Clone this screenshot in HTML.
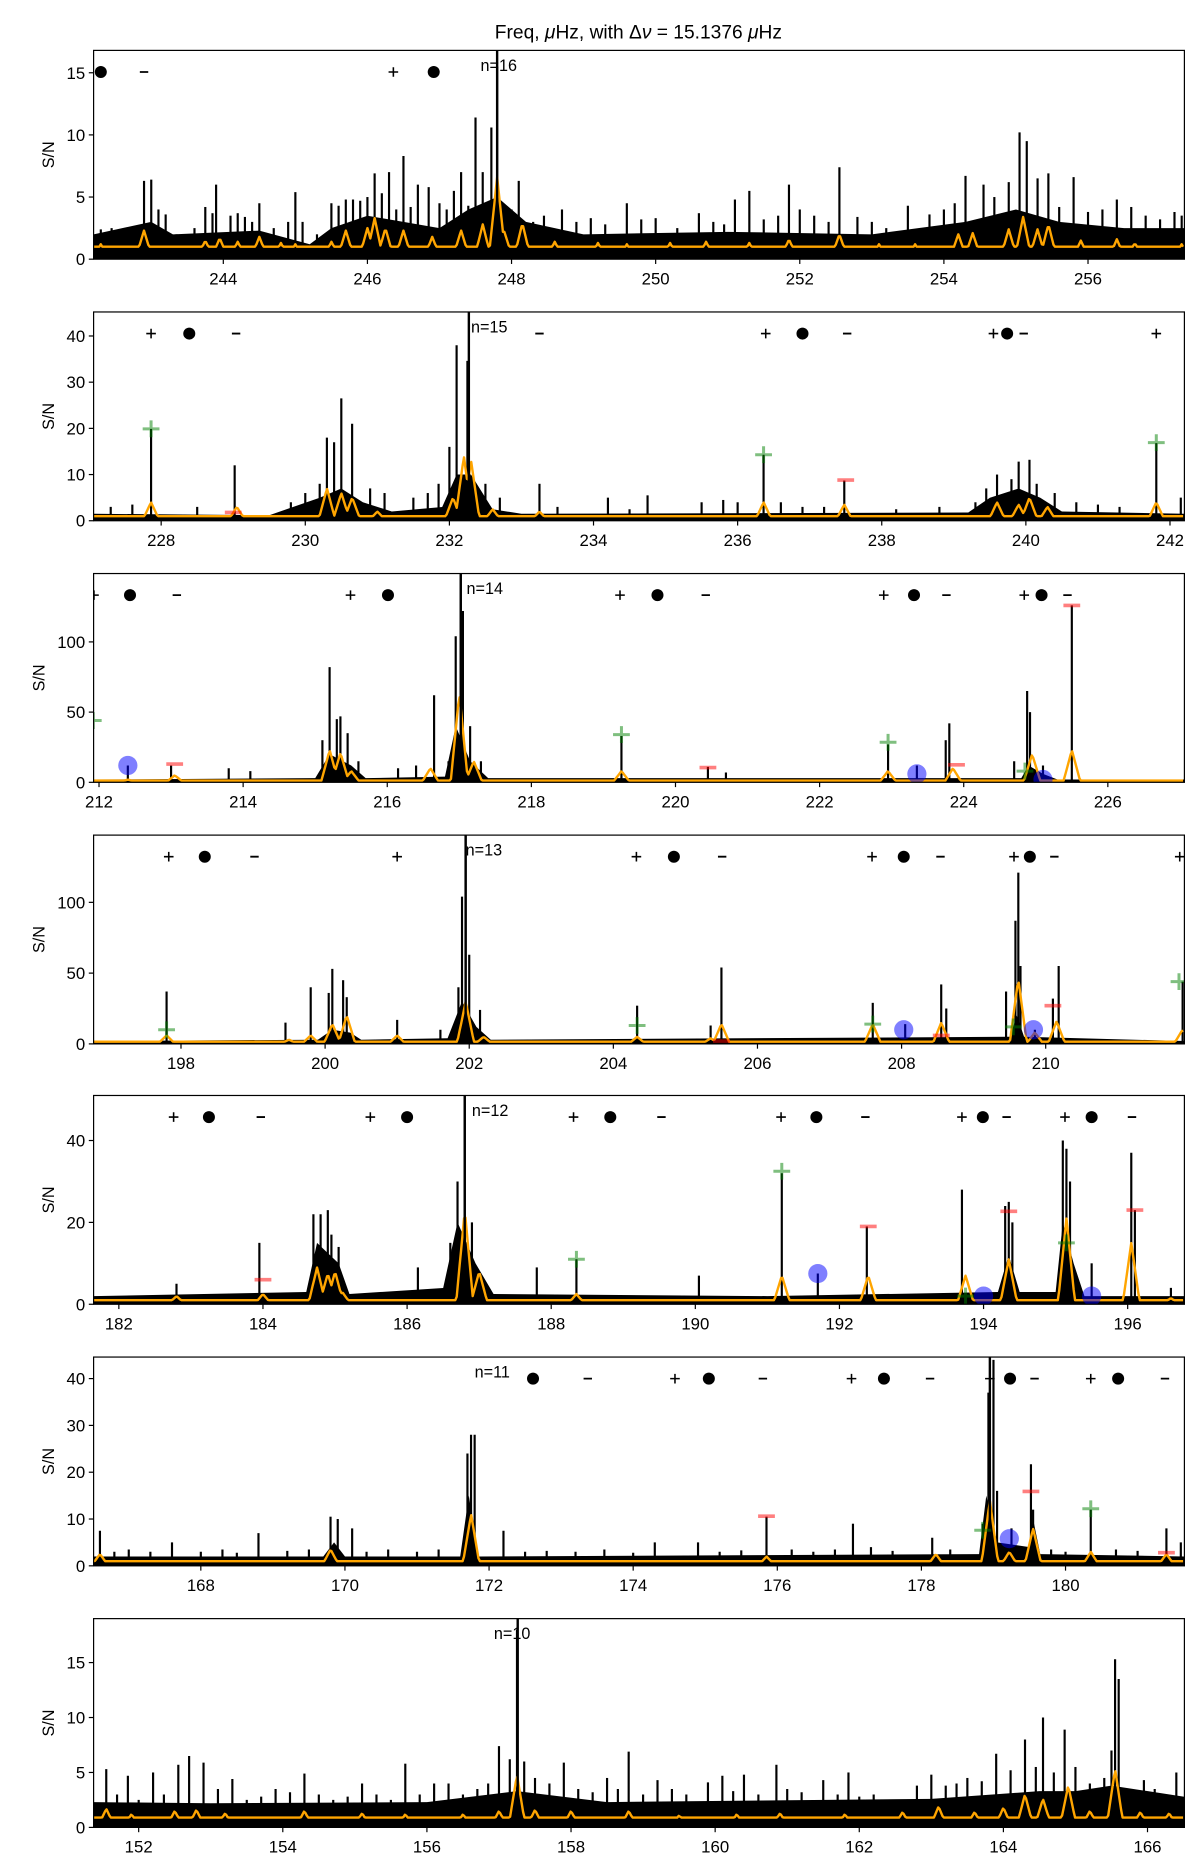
<!DOCTYPE html>
<html><head><meta charset="utf-8"><style>
html,body{margin:0;padding:0;background:#fff;}
svg{display:block;font-family:"Liberation Sans","DejaVu Sans",sans-serif;}
</style></head><body>
<svg id="chart" width="1200" height="1867" viewBox="0 0 1000 1556" preserveAspectRatio="none" xmlns="http://www.w3.org/2000/svg">
<rect width="1000" height="1556" fill="#fff"/>
<text x="532" y="32" font-size="16" text-anchor="middle">Freq, <tspan font-style="italic">μ</tspan>Hz, with Δ<tspan font-style="italic">ν</tspan> = 15.1376 <tspan font-style="italic">μ</tspan>Hz</text>
</svg>
<script>
const dnu = 15.1376;
const startFreq = 242.2;
const yMaxes = [16.8, 45.2, 148.7, 147.5, 51, 44.6, 19];
const yTicks = [[0,5,10,15],[0,10,20,30,40],[0,50,100],[0,50,100],[0,20,40],[0,10,20,30,40],[0,5,10,15]];
const nLabels = ['n=16','n=15','n=14','n=13','n=12','n=11','n=10'];
const nLines = [247.8, 232.27, 217.02, 201.95, 186.8, 178.95, 157.26];
const nTextX = [247.57, 232.3, 217.1, 201.95, 186.9, 171.8, 156.93];

const env = [
 [[242.2,2],[243,3],[243.3,2],[244.5,2.3],[245.2,1.2],[245.5,2.5],[246,3.5],[246.5,3],[247,2.5],[247.4,4],[247.8,5],[248.2,3],[249,2],[251,2.2],[253,2],[254.3,3],[255,4],[255.6,3],[256.5,2.5],[257.34,2.5]],
 [[227.06,1.5],[229.5,1.2],[230.2,5],[230.5,7],[230.8,4],[231.2,2],[231.9,3],[232.1,10],[232.3,10],[232.6,2.5],[233,1.5],[239.2,1.8],[239.5,5],[239.9,7],[240.2,5],[240.5,2],[242.2,1.5]],
 [[211.92,2],[215,3],[215.2,20],[215.5,12],[215.7,3],[216.8,4],[216.95,40],[217.15,15],[217.4,3],[224.8,3],[224.9,12],[225.1,6],[225.3,2],[227.06,2]],
 [[196.79,2],[199.9,3],[200.1,10],[200.35,8],[200.5,3],[201.7,4],[201.9,30],[202.1,12],[202.3,3],[209.5,5],[209.6,20],[209.7,5],[211.93,2]],
 [[181.65,2],[184.6,3],[184.75,15],[185.05,10],[185.2,2.5],[186.5,4],[186.7,20],[186.95,10],[187.2,2.5],[191,2],[194.2,3],[194.35,12],[194.5,3],[195,3],[195.1,20],[195.25,10],[195.4,2],[196.79,2]],
 [[166.51,2],[169.7,2],[169.85,5],[170,2],[171.6,2],[171.72,15],[171.85,2],[178.8,2.5],[178.9,15],[179.05,5],[179.5,4],[179.55,10],[179.65,2.5],[181.65,2]],
 [[151.37,2.3],[153,2.2],[156,2.3],[157.25,3.3],[158.5,2.3],[163,2.6],[164.5,3.3],[165,3.3],[165.5,3.8],[166.51,2.8]]
];
const spikes = [
 [[242.9,6.3],[243.0,6.4],[243.9,6],[244.5,4.5],[245.0,5.4],[245.5,4.5],[245.8,4.8],[246.1,6.9],[246.3,7.0],[246.5,8.3],[246.85,5.8],[247.3,7],[247.5,11.4],[247.6,7],[247.72,10.6],[247.8,15.5],[248.1,6.3],[248.7,4],[249.6,4.5],[250.6,3.7],[251.1,4.8],[251.3,5.5],[251.85,6],[252.55,7.4],[253.5,4.3],[254.3,6.7],[254.55,6],[254.9,6.2],[255.05,10.2],[255.15,9.5],[255.3,6.5],[255.45,6.9],[255.8,6.6],[256.4,4.8],[256.6,4.2],[257.3,3.5],
  [242.3,2.4],[242.45,2.5],[242.6,2.2],[242.75,2.3],[243.1,4],[243.2,3.6],[243.35,2],[243.6,2.5],[243.75,4.2],[243.85,3.7],[244.1,3.5],[244.2,3.7],[244.3,3.4],[244.4,3],[244.7,2.5],[244.9,3],[245.1,3],[245.3,2],[245.6,4.3],[245.7,4.8],[245.9,4.7],[246.0,5],[246.2,5.3],[246.4,4],[246.6,4.2],[246.7,6],[247.0,4.5],[247.1,4],[247.2,5.5],[247.4,4.3],[248.0,4],[248.3,3],[248.45,3.5],[248.9,3],[249.1,3.3],[249.3,2.8],[249.8,3.2],[250.0,3.3],[250.3,2.5],[250.8,3],[250.95,2.8],[251.5,3.2],[251.7,3.5],[252.0,4],[252.2,3.5],[252.4,3],[252.8,3.4],[253.0,3],[253.2,2.5],[253.8,3.6],[254.0,4],[254.15,4.5],[254.7,5],[255.6,4.2],[256.0,3.8],[256.2,4],[256.8,3.5],[257.0,3.2],[257.2,3.8]],
 [[227.86,19.9],[229.02,12],[230.2,8],[230.3,18],[230.4,17],[230.5,26.5],[230.65,21],[231.85,8],[232.0,16],[232.1,38],[232.25,34.6],[233.25,8],[234.2,5],[234.75,5.5],[236.36,14.3],[237.48,8.7],[239.45,7],[239.6,10],[239.8,9],[239.9,12.8],[240.05,13.2],[240.15,8],[241.81,16.8],[242.15,5],
  [227.3,3],[227.6,3.5],[228.5,3],[229.8,4],[230.0,6],[230.9,7],[231.1,6],[231.5,5],[231.7,6],[232.5,8],[232.7,5],[233.5,3],[234.5,2.5],[235.5,4],[235.8,4.5],[236.0,4],[236.6,4],[236.9,3],[237.2,3],[238.2,2.5],[238.8,3],[239.3,4],[240.4,6],[240.7,4],[241.0,3.5],[241.3,3]],
 [[212.4,12],[213.0,12],[213.8,10],[214.1,8],[215.1,30],[215.2,82],[215.3,45],[215.35,47],[215.45,35],[215.6,15],[216.15,10],[216.4,12],[216.65,62],[216.85,15],[216.95,104],[217.02,148],[217.05,122],[217.15,40],[217.3,15],[219.25,33],[220.45,11],[220.7,7],[222.95,27],[223.35,12],[223.75,30],[223.8,42],[224.7,15],[224.88,65],[224.92,50],[225.1,12],[225.5,126]],
 [[197.8,37],[199.45,15],[199.8,40],[200.05,36],[200.1,53],[200.25,45],[200.3,33],[201.0,17],[201.6,10],[201.85,40],[201.9,104],[201.95,148],[202.0,63],[202.15,24],[204.33,27],[205.35,13],[205.5,54],[207.6,29],[208.05,14],[208.55,42],[208.62,25],[209.45,37],[209.58,87],[209.62,121],[209.65,55],[209.85,10],[210.1,32],[210.18,55],[211.9,44]],
 [[182.8,5],[183.95,15],[184.7,22],[184.8,22],[184.9,23],[184.95,17],[185.05,14],[186.15,9],[186.6,15],[186.7,30],[186.8,52],[186.9,20],[187.8,9],[188.35,11],[190.05,7],[191.2,32],[191.7,7.5],[192.38,19],[193.7,28],[194.3,24],[194.35,25],[194.4,20],[195.1,40],[195.15,38],[195.2,30],[195.5,10],[196.05,37],[196.1,23],[196.6,4]],
 [[166.6,7.5],[167.6,5],[168.8,7],[169.8,10.5],[169.9,10],[170.1,8],[171.7,24],[171.75,28],[171.8,28],[172.2,7.5],[174.3,5],[174.9,5],[175.85,10.5],[177.05,9],[178.15,6],[178.85,9],[178.93,37],[179.0,44],[179.05,16],[179.25,8],[179.52,21.7],[179.55,12],[180.35,12],[181.4,8],[181.6,5],
  [166.8,3],[167.0,3.5],[167.3,3],[168.0,3],[168.3,3.5],[168.5,2.8],[169.2,3.2],[169.5,3.5],[170.3,3],[170.6,3.5],[171.0,3],[171.3,3.5],[172.5,3],[172.8,3.2],[173.2,3],[173.6,3.5],[174.0,2.8],[175.2,3],[175.5,3.3],[176.2,3.5],[176.5,3],[176.8,3.5],[177.3,4],[177.6,3.2],[178.4,3.5],[179.8,3.5],[180.0,3],[180.7,3.5],[181.0,3.2]],
 [[151.55,5.3],[151.85,4.7],[152.2,5],[152.55,5.7],[152.7,6.5],[152.9,5.9],[153.3,4.4],[154.3,4.9],[155.1,4.0],[155.7,5.8],[156.1,4],[157.0,7.4],[157.15,6.2],[157.25,18],[157.35,6],[157.9,5.9],[158.5,4.5],[158.8,6.9],[159.2,4.3],[159.9,4.1],[160.1,4.7],[160.4,4.8],[160.85,5.7],[161.5,4.3],[161.85,5],[162.8,3.8],[163.0,4.8],[163.5,4.5],[163.9,6.7],[164.3,8],[164.55,10],[164.85,8.9],[165.5,7],[165.55,15.3],[165.6,13.5],[165.95,4.3],[166.4,5],
  [151.4,2.2],[151.7,3],[152.0,2.5],[152.35,3],[153.1,3.5],[153.5,2.5],[153.7,2.8],[153.9,3.5],[154.1,3.2],[154.5,3],[154.7,2.5],[154.9,2.8],[155.3,3],[155.5,2.5],[155.9,3],[156.3,4],[156.5,3],[156.7,3.5],[156.85,4],[157.5,4.5],[157.7,4],[158.1,3.5],[158.3,3.2],[158.65,3.5],[159.0,3],[159.4,3.5],[159.6,3],[160.25,3.3],[160.6,3],[161.0,3.5],[161.2,3.2],[161.7,3],[162.0,2.8],[162.2,3],[162.5,2.5],[163.2,3.8],[163.35,4],[163.7,4.2],[164.1,5.2],[164.45,5.5],[164.7,5],[165.0,5.5],[165.2,4],[165.4,4.5],[165.75,3.5],[166.1,3.5],[166.3,3]]
];
const smoothBase = [1.0, 1.0, 1.2, 1.5, 1.0, 1.0, 0.9];
const smoothPeaks = [
 [[242.3,1.2],[242.9,2.3],[243.3,1.0],[243.75,1.5],[243.95,1.7],[244.2,1.4],[244.5,1.8],[244.8,1.3],[245.0,1.2],[245.5,1.4],[245.7,2.3],[246.0,2.5],[246.1,3.3],[246.25,2.5],[246.5,2.3],[246.9,1.8],[247.3,2.3],[247.6,2.8],[247.8,6.6],[247.9,2.2],[248.15,2.9],[248.6,1.4],[249.2,1.3],[249.6,1.2],[250.2,1.3],[250.7,1.4],[251.3,1.3],[251.85,1.6],[252.55,2.0],[253.1,1.2],[253.6,1.2],[254.2,2],[254.4,2.1],[254.9,2.4],[255.1,3.4],[255.3,2.4],[255.45,2.8],[255.9,1.5],[256.4,1.6],[256.65,1.3],[257.3,1.2]],
 [[227.86,4],[229.05,3],[230.3,7],[230.5,6],[230.65,5],[231.0,2],[232.05,5],[232.2,14],[232.3,13],[232.6,2.5],[233.25,2],[236.36,4],[237.48,3.5],[239.6,4],[239.9,3.5],[240.05,5],[240.3,3],[241.81,4]],
 [[212.4,2],[213.05,5],[215.2,23],[215.35,21],[215.5,8],[216.6,10],[217.0,63],[217.2,15],[219.25,8],[222.95,8],[223.85,10],[224.95,20],[225.5,23]],
 [[197.8,6],[199.5,3],[199.8,6],[200.1,14],[200.3,20],[201.0,6],[201.95,30],[202.2,5],[204.33,5],[205.35,4],[205.5,14],[207.6,14],[208.55,15],[209.62,46],[209.85,8],[210.15,16],[211.9,10]],
 [[182.8,2],[184.0,2.5],[184.75,9],[184.9,7.5],[185.0,8],[185.1,3],[186.8,23],[187.0,8],[188.35,2.5],[191.2,7],[192.4,7],[193.75,7],[194.35,11],[195.15,21],[196.05,15],[196.6,1.5]],
 [[166.6,2.5],[169.8,3.5],[171.75,11],[175.85,2],[178.2,2.5],[178.95,14],[179.22,3],[179.55,8],[180.35,3],[181.4,2.5]],
 [[151.55,1.7],[151.9,1.2],[152.5,1.5],[152.8,1.6],[153.2,1.3],[154.3,1.5],[155.1,1.3],[155.7,1.2],[156.5,1.2],[157.0,1.5],[157.25,4.8],[157.5,1.6],[158.0,1.5],[158.8,1.5],[159.5,1.1],[160.3,1.2],[160.9,1.3],[161.8,1.2],[162.6,1.4],[163.1,1.9],[163.6,1.4],[164.0,1.8],[164.3,3.0],[164.55,2.6],[164.9,3.8],[165.2,1.5],[165.55,5.3],[165.9,1.4],[166.3,1.3]]
];
const rowPlus = [[246.36],[227.86,236.39,239.55,241.81],[211.93,215.49,219.23,222.89,224.84],[197.83,201.0,204.32,207.59,209.56,211.86],[182.76,185.49,188.31,191.19,193.7,195.13],[174.58,177.03,178.95,180.35],[]];
const rowDot = [[242.3,246.92],[228.39,236.9,239.74],[212.43,216.01,219.75,223.31,225.08],[198.33,204.84,208.03,209.78],[183.25,186.0,188.82,191.68,193.99,195.5],[172.61,175.05,177.48,179.23,180.73],[]];
const rowMinus = [[242.9],[229.04,233.25,237.52,239.97],[213.08,220.42,223.76,225.44],[199.02,205.51,208.54,210.12],[183.97,189.53,192.36,194.32,196.06],[173.37,175.8,178.12,179.57,181.38],[]];
const greenFreq = [[],[227.86,236.36,241.81],[211.92,219.25,222.95,224.85],[197.8,204.33,207.6,209.55,211.85],[188.35,191.2,193.75,195.15],[178.85,180.35],[]];
const greenVal = [[],[19.9,14.3,16.9],[44,34,28.5,8],[10,13,14,12,44],[11,32.5,2,15],[7.6,12.2],[]];
const redFreq = [[],[229.0,237.5],[213.05,220.45,223.9,225.5],[205.5,208.55,210.1],[184.0,192.4,194.35,196.1],[175.85,179.52,181.4],[]];
const redVal = [[],[1.8,8.8],[13,10.5,12.5,126],[2,6,27],[6,19,22.7,23],[10.6,15.9,2.8],[]];
const blueFreq = [[],[],[212.4,223.35,225.1],[208.03,209.83],[191.7,194.0,195.5],[179.22],[]];
const blueVal = [[],[],[12,6,2],[10,10],[7.5,2,2],[5.8],[]];

const NS = 'http://www.w3.org/2000/svg';
const svg = document.getElementById('chart');
const L = 78, R = 987, H = 174;
const tops = [42, 260, 478, 696, 913, 1131, 1349];
function mk(tag, attrs, parent) {
  const e = document.createElementNS(NS, tag);
  for (const k in attrs) e.setAttribute(k, attrs[k]);
  parent.appendChild(e);
  return e;
}
for (let p = 0; p < 7; p++) {
  const top = tops[p], bot = top + H;
  const a = startFreq - p * dnu;
  const x = f => L + (f - a) / dnu * (R - L);
  const y = v => bot - v / yMaxes[p] * H;
  const g = mk('g', {}, svg);
  
  
  const cp = mk('clipPath', {id: 'clip' + p}, g);
  mk('rect', {x: L, y: top, width: R - L, height: H}, cp);
  const plot = mk('g', {'clip-path': 'url(#clip' + p + ')'}, g);
  let d = 'M' + x(env[p][0][0]) + ',' + bot;
  env[p].forEach(pt => { d += ' L' + x(pt[0]).toFixed(1) + ',' + y(pt[1]).toFixed(1); });
  d += ' L' + x(env[p][env[p].length - 1][0]) + ',' + bot + 'Z';
  const envEl = mk('path', {d: d, fill: '#000'}, plot);
  
  
  spikes[p].forEach(s => {
    const ln = mk('line', {x1: x(s[0]), x2: x(s[0]), y1: bot, y2: y(s[1]), stroke: '#000', 'stroke-width': 1.8}, plot);
    
    
  });
  let od = '';
  for (let f = a; f <= a + dnu + 0.001; f += 0.02) {
    let v = smoothBase[p];
    smoothPeaks[p].forEach(pk => {
      const t = pk[1] * (1 - Math.abs(f - pk[0]) / 0.12);
      if (t > v) v = t;
    });
    od += (od ? ' L' : 'M') + x(f).toFixed(1) + ',' + y(v).toFixed(1);
  }
  const sm = mk('path', {d: od, fill: 'none', stroke: '#ffa500', 'stroke-width': 2, 'stroke-linejoin': 'round'}, plot);
  
  
  const nl = mk('line', {x1: x(nLines[p]), x2: x(nLines[p]), y1: top, y2: bot, stroke: '#000', 'stroke-width': 2}, plot);
  
  
  greenFreq[p].forEach((f, i) => {
    const gg = mk('path', {d: 'M' + (x(f) - 7) + ',' + y(greenVal[p][i]) + ' h14 M' + x(f) + ',' + (y(greenVal[p][i]) - 7) + ' v14', stroke: 'rgba(0,128,0,0.5)', 'stroke-width': 2.5, fill: 'none'}, plot);
    
    
  });
  redFreq[p].forEach((f, i) => {
    const rr = mk('line', {x1: x(f) - 7, x2: x(f) + 7, y1: y(redVal[p][i]), y2: y(redVal[p][i]), stroke: 'rgba(255,0,0,0.5)', 'stroke-width': 3}, plot);
    
    
  });
  blueFreq[p].forEach((f, i) => {
    const bb = mk('circle', {cx: x(f), cy: y(blueVal[p][i]), r: 8, fill: 'rgba(0,0,255,0.5)'}, plot);
    
    
  });
  const ry = top + 18;
  rowPlus[p].forEach(f => {
    const e = mk('path', {d: 'M' + (x(f) - 4) + ',' + ry + ' h8 M' + x(f) + ',' + (ry - 4) + ' v8', stroke: '#000', 'stroke-width': 1.3, fill: 'none'}, plot);
    
    
  });
  rowDot[p].forEach(f => {
    const e = mk('circle', {cx: x(f), cy: ry, r: 5, fill: '#000'}, plot);
    
    
  });
  rowMinus[p].forEach(f => {
    const e = mk('line', {x1: x(f) - 3.5, x2: x(f) + 3.5, y1: ry, y2: ry, stroke: '#000', 'stroke-width': 1.5}, plot);
    
    
  });
  const nt = mk('text', {x: x(nTextX[p]), y: top + 17, 'font-size': 13.5}, g);
  nt.textContent = nLabels[p];
  
  
  const fr = mk('rect', {x: L, y: top, width: R - L, height: H, fill: 'none', stroke: '#000', 'stroke-width': 1}, g);
  
  
  let maxw = 0;
  yTicks[p].forEach(v => {
    mk('line', {x1: L - 4, x2: L, y1: y(v), y2: y(v), stroke: '#000', 'stroke-width': 1}, g);
    const t = mk('text', {x: L - 7, y: y(v) + 5, 'font-size': 14, 'text-anchor': 'end'}, g);
    t.textContent = v;
    
    
    maxw = Math.max(maxw, String(v).length);
  });
  const lx = L - 7 - maxw * 8 - 10;
  const yl = mk('text', {x: lx, y: top + H / 2, 'font-size': 13.5, 'text-anchor': 'middle', transform: 'rotate(-90 ' + lx + ' ' + (top + H / 2) + ')'}, g);
  yl.textContent = 'S/N';
  
  
  for (let t = Math.ceil(a / 2) * 2; t <= a + dnu; t += 2) {
    mk('line', {x1: x(t), x2: x(t), y1: bot, y2: bot + 4, stroke: '#000', 'stroke-width': 1}, g);
    const tl = mk('text', {x: x(t), y: bot + 21, 'font-size': 14, 'text-anchor': 'middle'}, g);
    tl.textContent = t;
    
    
  }
}
</script>
</body></html>
